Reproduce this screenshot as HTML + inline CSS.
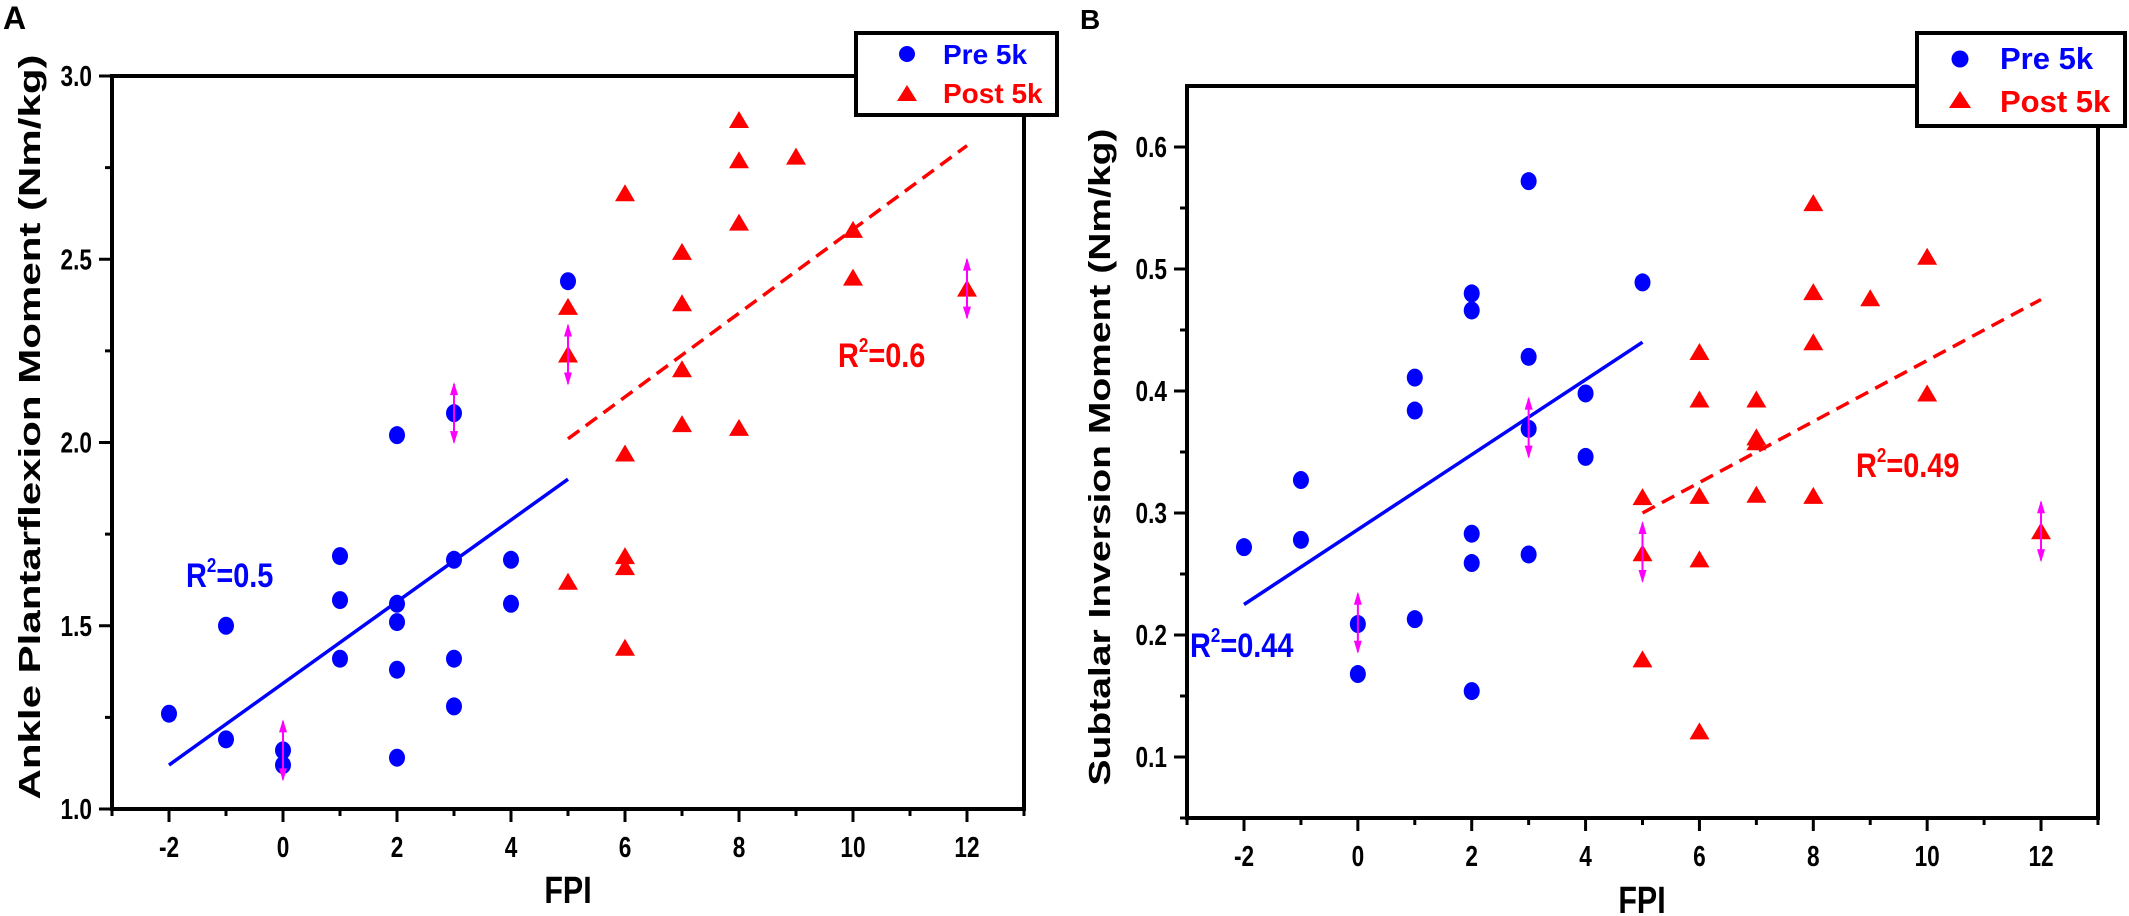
<!DOCTYPE html>
<html><head><meta charset="utf-8"><style>
html,body{margin:0;padding:0;background:#fff;}
svg{display:block;font-family:"Liberation Sans",Arial,sans-serif;font-weight:bold;}
</style></head><body>
<svg id="s" width="2129" height="916" viewBox="0 0 2129 916" xmlns="http://www.w3.org/2000/svg">
<rect width="2129" height="916" fill="#fff"/>
<g id="g"></g>
<text x="3" y="29" font-size="32">A</text>
<text x="1080" y="29" font-size="28">B</text>
<text transform="translate(40,427) rotate(-90)" text-anchor="middle" font-size="31" textLength="745" lengthAdjust="spacingAndGlyphs">Ankle Plantarflexion Moment (Nm/kg)</text>
<text transform="translate(1110,457) rotate(-90)" text-anchor="middle" font-size="31" textLength="657" lengthAdjust="spacingAndGlyphs">Subtalar Inversion Moment (Nm/kg)</text>
<text transform="translate(568,903) scale(0.8,1)" text-anchor="middle" font-size="38">FPI</text>
<text transform="translate(1642,913) scale(0.8,1)" text-anchor="middle" font-size="38">FPI</text>
<text transform="translate(186,587) scale(0.85,1)" font-size="34" fill="#0000ff">R<tspan font-size="20" dy="-15">2</tspan><tspan dy="15">=0.5</tspan></text>
<text transform="translate(838,367) scale(0.85,1)" font-size="34" fill="#ff0000">R<tspan font-size="20" dy="-15">2</tspan><tspan dy="15">=0.6</tspan></text>
<text transform="translate(1190,657) scale(0.85,1)" font-size="34" fill="#0000ff">R<tspan font-size="20" dy="-15">2</tspan><tspan dy="15">=0.44</tspan></text>
<text transform="translate(1856,477) scale(0.85,1)" font-size="34" fill="#ff0000">R<tspan font-size="20" dy="-15">2</tspan><tspan dy="15">=0.49</tspan></text>
<rect x="856" y="33" width="201" height="82" fill="#fff" stroke="#000" stroke-width="4"/>
<circle cx="907" cy="54" r="8" fill="#0000ff"/>
<polygon points="897,101 917,101 907,85" fill="#ff0000"/>
<text x="943" y="64" font-size="28" fill="#0000ff">Pre 5k</text>
<text x="943" y="103" font-size="28" fill="#ff0000">Post 5k</text>
<rect x="1917" y="33" width="208" height="93" fill="#fff" stroke="#000" stroke-width="4"/>
<circle cx="1960" cy="59" r="8.5" fill="#0000ff"/>
<polygon points="1949,108 1971,108 1960,91" fill="#ff0000"/>
<text x="2000" y="69" font-size="31" fill="#0000ff">Pre 5k</text>
<text x="2000" y="112" font-size="31" fill="#ff0000">Post 5k</text>
</svg>
<script>
var NS="http://www.w3.org/2000/svg",G=document.getElementById('g');
function el(t,a,p){var e=document.createElementNS(NS,t);for(var k in a)e.setAttribute(k,a[k]);(p||G).appendChild(e);return e;}
function panel(P){
 var X=function(v){return P.x0+(v+2)*P.dx;},Y=function(v){return P.yb-(v-P.vb)*P.dy;};
 el('rect',{x:P.L,y:P.T,width:P.R-P.L,height:P.B-P.T,fill:'none',stroke:'#000','stroke-width':4});
 for(var v=-3;v<=13;v++){var maj=(v%2==0);el('line',{x1:X(v),x2:X(v),y1:P.B,y2:P.B+(maj?13:7),stroke:'#000','stroke-width':3});
  if(maj){var t=el('text',{transform:'translate('+X(v)+','+(P.B+48)+') scale(0.78,1)','text-anchor':'middle','font-size':29});t.textContent=v;}}
 P.yt.forEach(function(q){el('line',{x1:P.L-(q[1]?13:7),x2:P.L,y1:Y(q[0]),y2:Y(q[0]),stroke:'#000','stroke-width':3});
  if(q[1]){var t=el('text',{transform:'translate('+(P.L-20)+','+(Y(q[0])+10)+') scale(0.78,1)','text-anchor':'end','font-size':29});t.textContent=q[2];}});
 el('line',{x1:X(P.bl[0]),y1:Y(P.bl[1]),x2:X(P.bl[2]),y2:Y(P.bl[3]),stroke:'#0000ff','stroke-width':3.5});
 el('line',{x1:X(P.rl[0]),y1:Y(P.rl[1]),x2:X(P.rl[2]),y2:Y(P.rl[3]),stroke:'#ff0000','stroke-width':3.5,'stroke-dasharray':'14,8'});
 P.pre.forEach(function(p){el('ellipse',{cx:X(p[0]),cy:Y(p[1]),rx:8,ry:9,fill:'#0000ff'});});
 P.post.forEach(function(p){var x=X(p[0]),y=Y(p[1]);el('polygon',{points:(x-10)+','+(y+8)+' '+(x+10)+','+(y+8)+' '+x+','+(y-9),fill:'#ff0000'});});
 P.arr.forEach(function(p){var x=X(p[0]),y=Y(p[1]);el('line',{x1:x,x2:x,y1:y-29,y2:y+29,stroke:'#ff00ff','stroke-width':2});
  el('polygon',{points:(x-4)+','+(y-18)+' '+(x+4)+','+(y-18)+' '+x+','+(y-31),fill:'#ff00ff'});
  el('polygon',{points:(x-4)+','+(y+18)+' '+(x+4)+','+(y+18)+' '+x+','+(y+31),fill:'#ff00ff'});});
}
var ytA=[];for(var i=0;i<=8;i++){var v=1+i*0.25;ytA.push([v,i%2==0,v.toFixed(1)]);}
panel({L:112,R:1024,T:76,B:809,x0:169,dx:57,yb:809,vb:1,dy:366.5,yt:ytA,
 bl:[-2,1.12,5,1.90],rl:[5,2.01,12,2.81],
 pre:[[-2,1.26],[-1,1.50],[-1,1.19],[0,1.16],[0,1.12],[1,1.69],[1,1.57],[1,1.41],[2,2.02],[2,1.56],[2,1.51],[2,1.38],[2,1.14],[3,2.08],[3,1.68],[3,1.41],[3,1.28],[4,1.68],[4,1.56],[5,2.44]],
 post:[[5,2.37],[5,2.24],[5,1.62],[6,2.68],[6,1.97],[6,1.69],[6,1.66],[6,1.44],[7,2.52],[7,2.38],[7,2.20],[7,2.05],[8,2.88],[8,2.77],[8,2.60],[8,2.04],[9,2.78],[10,2.58],[10,2.45],[12,2.42]],
 arr:[[0,1.16],[3,2.08],[5,2.24],[12,2.42]]});
var ytB=[];for(var i=1;i<=12;i++){var v=0.05*i;ytB.push([v,i%2==0,(v).toFixed(1)]);}
panel({L:1187,R:2098,T:86,B:818,x0:1244,dx:56.93,yb:757,vb:0.1,dy:1220,yt:ytB,
 bl:[-2,0.225,5,0.44],rl:[5,0.30,12,0.475],
 pre:[[-2,0.272],[-1,0.327],[-1,0.278],[0,0.209],[0,0.168],[1,0.411],[1,0.384],[1,0.213],[2,0.480],[2,0.466],[2,0.283],[2,0.259],[2,0.154],[3,0.572],[3,0.428],[3,0.369],[3,0.266],[4,0.398],[4,0.346],[5,0.489]],
 post:[[5,0.313],[5,0.267],[5,0.180],[6,0.432],[6,0.393],[6,0.314],[6,0.262],[6,0.121],[7,0.393],[7,0.362],[7,0.358],[7,0.315],[8,0.554],[8,0.481],[8,0.440],[8,0.314],[9,0.476],[10,0.510],[10,0.398],[12,0.285]],
 arr:[[0,0.21],[3,0.37],[5,0.268],[12,0.285]]});
</script>
</body></html>
